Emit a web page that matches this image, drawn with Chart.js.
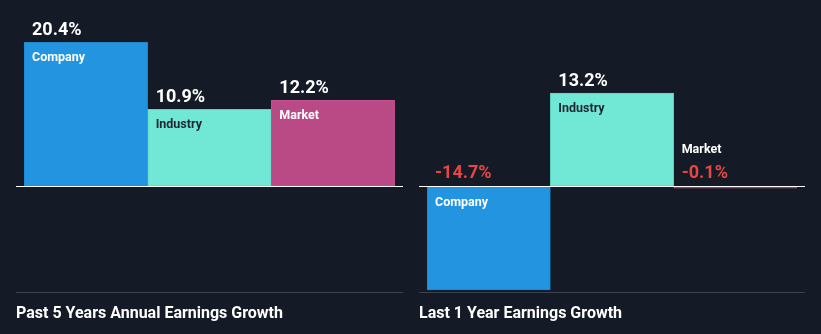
<!DOCTYPE html>
<html>
<head>
<meta charset="utf-8">
<script src="https://cdn.jsdelivr.net/npm/chart.js@4.4.1/dist/chart.umd.min.js"></script>
<style>
  html, body { margin: 0; padding: 0; background: #151b26; }
  body { width: 821px; height: 334px; position: relative; overflow: hidden; }
  canvas { position: absolute; top: 0; }
  #past5 { left: 16px; }
  #last1 { left: 419px; }
</style>
</head>
<body>
<canvas id="past5" width="387" height="334"></canvas>
<canvas id="last1" width="386" height="334"></canvas>
<script>
// Earnings growth, company vs industry vs market
const categories = ['Company', 'Industry', 'Market'];
const past5Years = [20.4, 10.9, 12.2];
const last1Year = [-14.7, 13.2, -0.1];
const panelTitles = ['Past 5 Years Annual Earnings Growth', 'Last 1 Year Earnings Growth'];

const barColors = ['#2394df', '#71e8d6', '#ba4a85'];
const barBorders = ['#1f86cc', '#5fcfbf', '#c2508c'];
const labelColors = ['#ffffff', '#1d2530', '#ffffff'];

const FONT = 'Roboto, "Open Sans", sans-serif';

// draws value/category labels, the zero line, bottom rule and the panel title
const growthLabels = {
    id: 'growthLabels',
    afterDatasetsDraw(chart, args, opts) {
        const ctx = chart.ctx;
        const meta = chart.getDatasetMeta(0);
        const values = chart.data.datasets[0].data;
        const zeroY = chart.scales.y.getPixelForValue(0);
        const w = chart.width;

        // zero line
        ctx.save();
        ctx.fillStyle = '#ffffff';
        ctx.fillRect(0, Math.floor(zeroY), w, 1);

        // bottom rule
        ctx.fillStyle = '#3d414b';
        ctx.fillRect(0, 292, w, 1);

        meta.data.forEach((bar, i) => {
            const v = values[i];
            const left = bar.x - bar.width / 2 + 8;
            const valueText = v.toFixed(1) + '%';
            const valueColor = v < 0 ? '#e84545' : '#ffffff';
            const catFont = 'bold 12.5px ' + FONT;
            const valFont = 'bold 18px ' + FONT;
            ctx.textAlign = 'left';
            ctx.textBaseline = 'alphabetic';

            if (v >= 0) {
                ctx.font = valFont;
                ctx.fillStyle = valueColor;
                ctx.fillText(valueText, left, bar.y - 7);
                ctx.font = catFont;
                ctx.fillStyle = labelColors[i];
                ctx.fillText(categories[i], left, bar.y + 18.5);
            } else if (bar.y - zeroY > 30) {
                ctx.font = valFont;
                ctx.fillStyle = valueColor;
                ctx.fillText(valueText, left, zeroY - 8);
                ctx.font = catFont;
                ctx.fillStyle = labelColors[i];
                ctx.fillText(categories[i], left, zeroY + 20);
            } else {
                // bar too thin to hold its name, stack it above the value
                ctx.font = valFont;
                ctx.fillStyle = valueColor;
                ctx.fillText(valueText, left, zeroY - 8);
                ctx.font = catFont;
                ctx.fillStyle = '#ffffff';
                ctx.fillText(categories[i], left, zeroY - 33);
            }
        });

        // panel title
        ctx.font = 'bold 16px ' + FONT;
        ctx.fillStyle = '#ffffff';
        ctx.textAlign = 'left';
        ctx.fillText(opts.title, 0, 318);
        ctx.restore();
    }
};

function makePanel(canvasId, values, title) {
    return new Chart(document.getElementById(canvasId), {
        type: 'bar',
        data: {
            labels: categories,
            datasets: [{
                data: values,
                backgroundColor: barColors,
                borderColor: barBorders,
                borderWidth: 1,
                borderSkipped: false,
                barPercentage: 1,
                categoryPercentage: 1,
                minBarLength: 2
            }]
        },
        options: {
            responsive: false,
            animation: false,
            devicePixelRatio: 1,
            layout: { padding: { left: 8, right: 8, top: 10, bottom: 42 } },
            plugins: {
                legend: { display: false },
                tooltip: { enabled: false },
                growthLabels: { title: title }
            },
            scales: {
                x: { display: false },
                y: { display: false, min: -15, max: 25 }
            }
        },
        plugins: [growthLabels]
    });
}

makePanel('past5', past5Years, panelTitles[0]);
makePanel('last1', last1Year, panelTitles[1]);
</script>
</body>
</html>
